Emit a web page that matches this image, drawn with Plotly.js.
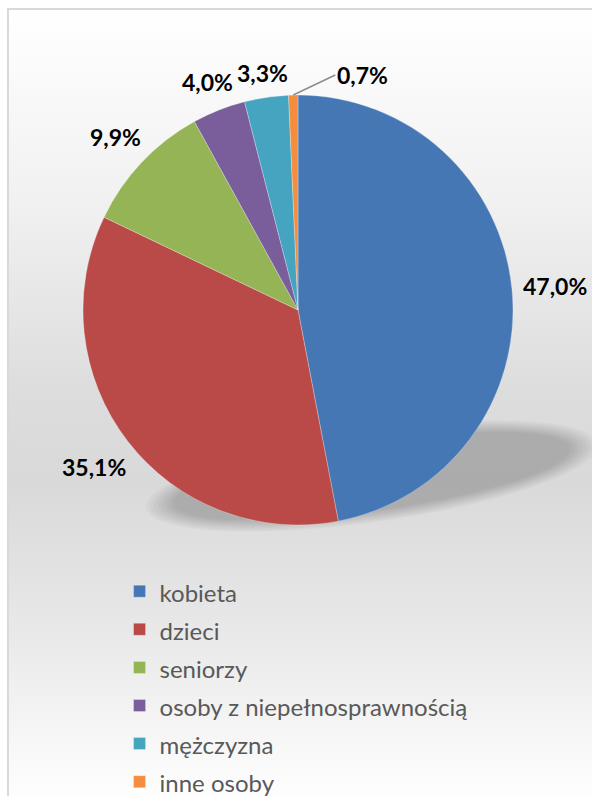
<!DOCTYPE html>
<html>
<head>
<meta charset="utf-8">
<script src="https://cdn.plot.ly/plotly-3.0.1.min.js"></script>
<style>
  html, body { margin: 0; padding: 0; background: #ffffff; }
  #frame {
    position: absolute; left: 7px; top: 8px; width: 620px; height: 820px;
    border-left: 2px solid #d9d9d9; border-top: 2px solid #d9d9d9;
    background: linear-gradient(to bottom, #ffffff 0px, #f1f1f1 190px, #dddddd 380px, #d9d9d9 470px, #e6e6e6 600px, #fefefe 788px);
  }
  #chart { position: absolute; left: 0; top: 0; width: 592px; height: 796px; }
</style>
</head>
<body>
<div id="frame"></div>
<div id="chart"></div>
<script>
const categories = ['kobieta', 'dzieci', 'seniorzy', 'osoby z niepełnosprawnością', 'mężczyzna', 'inne osoby'];
const shares = [47.0, 35.1, 9.9, 4.0, 3.3, 0.7];
const colors = ['#4677b5', '#b94a47', '#94b455', '#7a5e9c', '#45a4bf', '#f58d3f'];

const W = 592, H = 796;
const M = { l: 83, r: 79, t: 95, b: 271 };
const PW = W - M.l - M.r, PH = H - M.t - M.b;
const CX = M.l + PW / 2, CY = M.t + PH / 2, R = Math.min(PW, PH) / 2;
const toPX = px => (px - M.l) / PW;
const toPY = py => 1 - (py - M.t) / PH;

const legendLabels = categories.map(c => '<span style="font-size:24px">' + c + '</span>');
const fmt = v => v.toFixed(1).replace('.', ',') + '%';
const labelFont = { family: 'Lato, "Open Sans", sans-serif', size: 23, color: '#000000', weight: 'bold' };

// data labels placed just outside each slice, along its mid-angle
const calloutLimit = 1;
const total = shares.reduce((a, b) => a + b, 0);
const annotations = [];
let cum = 0;
shares.forEach((v, i) => {
  const mid = (90 - 360 * (cum + v / 2) / total) * Math.PI / 180;
  cum += v;
  const c = Math.cos(mid), s = Math.sin(mid);
  const txt = fmt(v);
  if (v < calloutLimit) {
    annotations.push({
      xref: 'paper', yref: 'paper',
      x: toPX(CX + R * c), y: toPY(CY - R * s),
      text: txt, showarrow: true, arrowhead: 0, arrowwidth: 1.5, arrowcolor: '#8c8c8c',
      ax: 42, ay: -20, xanchor: 'left', standoff: 0, font: labelFont
    });
  } else {
    const hw = txt.length * 13 / 2, hh = 11;
    const dist = R + 10 + hw * Math.abs(c) + hh * Math.abs(s);
    annotations.push({
      xref: 'paper', yref: 'paper',
      x: toPX(CX + dist * c), y: toPY(CY - dist * s),
      xanchor: 'center', yanchor: 'middle',
      text: txt, showarrow: false, font: labelFont
    });
  }
});

// soft, slightly tilted drop shadow under the pie
function ellipsePath(cx, cy, rx, ry, tiltDeg) {
  const t = tiltDeg * Math.PI / 180;
  let d = '';
  for (let k = 0; k <= 72; k++) {
    const a = 2 * Math.PI * k / 72;
    const ex = rx * Math.cos(a), ey = ry * Math.sin(a);
    const px = cx + ex * Math.cos(t) - ey * Math.sin(t);
    const py = cy + ex * Math.sin(t) + ey * Math.cos(t);
    d += (k === 0 ? 'M' : 'L') + toPX(px).toFixed(4) + ',' + toPY(py).toFixed(4);
  }
  return d + 'Z';
}
const shadowShapes = [];
for (let i = 0; i < 8; i++) {
  shadowShapes.push({
    type: 'path', xref: 'paper', yref: 'paper', layer: 'below',
    path: ellipsePath(372, 476, 228 - i * 4, 46 - i * 1.6, -8),
    fillcolor: 'rgba(0,0,0,0.028)', line: { width: 0 }
  });
}

const trace = {
  type: 'pie',
  labels: legendLabels,
  values: shares,
  sort: false,
  direction: 'clockwise',
  rotation: 0,
  marker: { colors: colors, line: { width: 0.8, color: 'rgba(255,255,255,0.35)' } },
  textinfo: 'none',
  hoverinfo: 'none',
  automargin: false
};

const layout = {
  width: W, height: H,
  margin: { l: M.l, r: M.r, t: M.t, b: M.b, autoexpand: false },
  paper_bgcolor: 'rgba(0,0,0,0)',
  plot_bgcolor: 'rgba(0,0,0,0)',
  separators: ', ',
  showlegend: true,
  legend: {
    x: 0.085, y: -0.098, xanchor: 'left', yanchor: 'top',
    font: { family: 'Lato, "Open Sans", sans-serif', size: 27, color: '#595959' },
    bgcolor: 'rgba(0,0,0,0)'
  },
  shapes: shadowShapes,
  annotations: annotations
};

Plotly.newPlot('chart', [trace], layout, { displayModeBar: false, staticPlot: true });
</script>
</body>
</html>
